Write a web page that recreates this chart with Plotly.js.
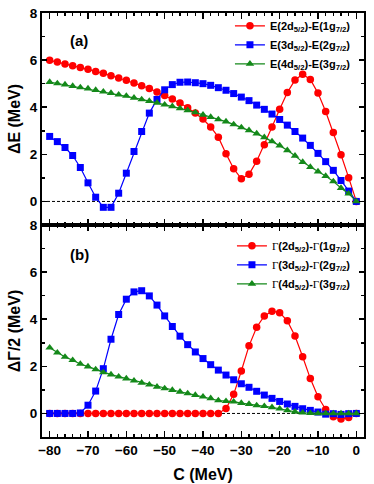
<!DOCTYPE html>
<html>
<head>
<meta charset="utf-8">
<script src="https://cdn.plot.ly/plotly-3.0.1.min.js"></script>
<style>html,body{margin:0;padding:0;background:#fff;}#chart{width:374px;height:484px;}</style>
</head>
<body>
<div id="chart"></div>
<script>
// C values (MeV)
var C = [-80,-78,-76,-74,-72,-70,-68,-66,-64,-62,-60,-58,-56,-54,-52,-50,-48,-46,-44,-42,-40,
         -38,-36,-34,-32,-30,-28,-26,-24,-22,-20,-18,-16,-14,-12,-10,-8,-6,-4,-2,0];

// Panel (a): energy differences
var dE_2d1g = [5.99,5.92,5.84,5.76,5.69,5.61,5.52,5.44,5.34,5.24,5.14,5.03,4.91,4.80,4.65,4.50,4.35,4.18,3.98,3.75,3.50,
               3.16,2.73,2.03,1.39,0.96,1.15,1.71,2.41,3.16,3.91,4.62,5.16,5.40,5.18,4.60,3.82,2.93,1.98,1.01,0.00];
var dE_3d2g = [2.76,2.54,2.29,1.95,1.44,0.79,0.18,-0.25,-0.25,0.35,1.20,2.12,2.97,3.75,4.33,4.74,4.96,5.06,5.07,5.04,5.00,
               4.93,4.83,4.72,4.58,4.43,4.28,4.09,3.91,3.71,3.48,3.24,2.97,2.69,2.38,2.04,1.69,1.32,0.89,0.44,0.00];
var dE_4d3g = [5.07,5.01,4.96,4.90,4.84,4.79,4.73,4.66,4.60,4.53,4.48,4.40,4.33,4.26,4.19,4.11,4.04,3.95,3.87,3.78,3.68,
               3.58,3.48,3.39,3.27,3.14,3.02,2.88,2.72,2.55,2.37,2.17,1.94,1.67,1.46,1.27,1.08,0.85,0.57,0.33,0.00];

// Panel (b): width differences
var dG_2d1g = [0,0,0,0,0,0,0,0,0,0,0,0,0,0,0,0,0,0,0,0,0,
               0,0,0.21,0.81,1.80,2.87,3.66,4.14,4.34,4.28,3.93,3.29,2.41,1.48,0.71,0.17,-0.14,-0.24,-0.17,0.00];
var dG_3d2g = [0,0,0,0,0.02,0.35,0.95,1.90,3.15,4.20,4.85,5.16,5.21,4.99,4.60,4.14,3.69,3.28,2.92,2.61,2.33,
               2.07,1.84,1.63,1.43,1.26,1.11,0.94,0.78,0.64,0.51,0.40,0.30,0.20,0.13,0.06,-0.03,-0.01,-0.04,-0.01,0.00];
var dG_4d3g = [2.79,2.58,2.40,2.26,2.10,1.99,1.87,1.74,1.65,1.56,1.48,1.39,1.30,1.22,1.13,1.06,0.99,0.92,0.85,0.78,0.71,
               0.64,0.55,0.52,0.50,0.44,0.40,0.34,0.31,0.26,0.20,0.13,0.07,0.03,0.01,0.00,0.00,0.00,0.00,0.00,0.00];

var G = '<span style="font-family:Liberation Serif;font-weight:normal">\u0393</span>';
var namesA = ['E(2d<sub>5/2</sub>)-E(1g<sub>7/2</sub>)','E(3d<sub>5/2</sub>)-E(2g<sub>7/2</sub>)','E(4d<sub>5/2</sub>)-E(3g<sub>7/2</sub>)'];
var namesB = [G+'(2d<sub>5/2</sub>)-'+G+'(1g<sub>7/2</sub>)',G+'(3d<sub>5/2</sub>)-'+G+'(2g<sub>7/2</sub>)',G+'(4d<sub>5/2</sub>)-'+G+'(3g<sub>7/2</sub>)'];
var yTickVals = [0,2,4,6,8];
var xTickVals = [-80,-70,-60,-50,-40,-30,-20,-10,0];

var colors = ['#ff0000','#0000ff','#14891a'];
var symbols = ['circle','square','triangle-up'];
var msize = [7.5,7,7.5];

var traces = [];
[dE_2d1g,dE_3d2g,dE_4d3g].forEach(function(y,i){
  traces.push({x:C,y:y,type:'scatter',mode:'lines+markers',name:namesA[i],
    xaxis:'x2',yaxis:'y2',legend:'legend',legendgroup:'a'+i,
    line:{color:colors[i],width:1.2},marker:{symbol:symbols[i],size:msize[i],color:colors[i]},
    cliponaxis:true});
});
[dG_2d1g,dG_3d2g,dG_4d3g].forEach(function(y,i){
  traces.push({x:C,y:y,type:'scatter',mode:'lines+markers',name:namesB[i],
    xaxis:'x',yaxis:'y',legend:'legend2',legendgroup:'b'+i,
    line:{color:colors[i],width:1.2},marker:{symbol:symbols[i],size:msize[i],color:colors[i]},
    cliponaxis:true});
});
var fontFam = 'Liberation Sans, Arial, sans-serif';
var tickFont = {family:fontFam,size:13.5,color:'#000',weight:'bold'};
var titleFont = {family:fontFam,size:16,color:'#000',weight:'bold'};
var legFont = {family:fontFam,size:11,color:'#000',weight:'bold'};

function yax(domain,title){
  return {domain:domain,range:[-1,8],tickvals:yTickVals,ticks:'inside',ticklen:5,tickwidth:1.5,
    minor:{dtick:1,ticks:'inside',ticklen:3,tickwidth:1.5,tickcolor:'#000',showgrid:false},
    showline:true,linewidth:2,linecolor:'#000',mirror:'ticks',tickcolor:'#000',
    showgrid:false,zeroline:false,tickfont:tickFont,
    title:{text:title,font:titleFont,standoff:5}};
}
var layout = {
  width:374,height:484,
  margin:{l:42,r:10,t:13,b:47},
  paper_bgcolor:'#fff',plot_bgcolor:'#fff',
  showlegend:true,
  xaxis:{domain:[0,1],range:[-82,2],anchor:'y',tickvals:xTickVals,ticks:'inside',ticklen:6,tickwidth:1.5,
    minor:{dtick:2,ticks:'inside',ticklen:3,tickwidth:1.5,tickcolor:'#000',showgrid:false},
    showline:true,linewidth:2,linecolor:'#000',mirror:'ticks',tickcolor:'#000',
    showgrid:false,zeroline:false,tickfont:tickFont,
    title:{text:'C (MeV)',font:titleFont,standoff:12}},
  xaxis2:{domain:[0,1],range:[-82,2],anchor:'y2',matches:'x',tickvals:xTickVals,ticks:'inside',ticklen:6,tickwidth:1.5,
    minor:{dtick:2,ticks:'inside',ticklen:3,tickwidth:1.5,tickcolor:'#000',showgrid:false},
    showline:true,linewidth:2,linecolor:'#000',mirror:'ticks',tickcolor:'#000',
    showgrid:false,zeroline:false,showticklabels:false},
  yaxis:yax([0,0.5],'\u0394\u0393/2 (MeV)'),
  yaxis2:yax([0.5,1],'\u0394E (MeV)'),
  legend:{x:0.975,y:1.004,xanchor:'right',yanchor:'top',bgcolor:'rgba(0,0,0,0)',
    font:legFont,itemwidth:30,tracegroupgap:0},
  legend2:{x:0.975,y:0.485,xanchor:'right',yanchor:'top',bgcolor:'rgba(0,0,0,0)',
    font:legFont,itemwidth:30,tracegroupgap:0},
  shapes:[
    {type:'line',xref:'x domain',yref:'y',x0:0,x1:1,y0:0,y1:0,line:{color:'#000',width:1,dash:'3px,2px'},layer:'below'},
    {type:'line',xref:'x2 domain',yref:'y2',x0:0,x1:1,y0:0,y1:0,line:{color:'#000',width:1,dash:'3px,2px'},layer:'below'}
  ],
  annotations:[
    {text:'(a)',xref:'x2 domain',yref:'y2 domain',x:0.08,y:0.87,xanchor:'left',yanchor:'middle',showarrow:false,font:{family:fontFam,size:15,color:'#000',weight:'bold'}},
    {text:'(b)',xref:'x domain',yref:'y domain',x:0.08,y:0.86,xanchor:'left',yanchor:'middle',showarrow:false,font:{family:fontFam,size:15,color:'#000',weight:'bold'}}
  ]
};
Plotly.newPlot('chart',traces,layout,{displayModeBar:false,staticPlot:true});
</script>
</body>
</html>
